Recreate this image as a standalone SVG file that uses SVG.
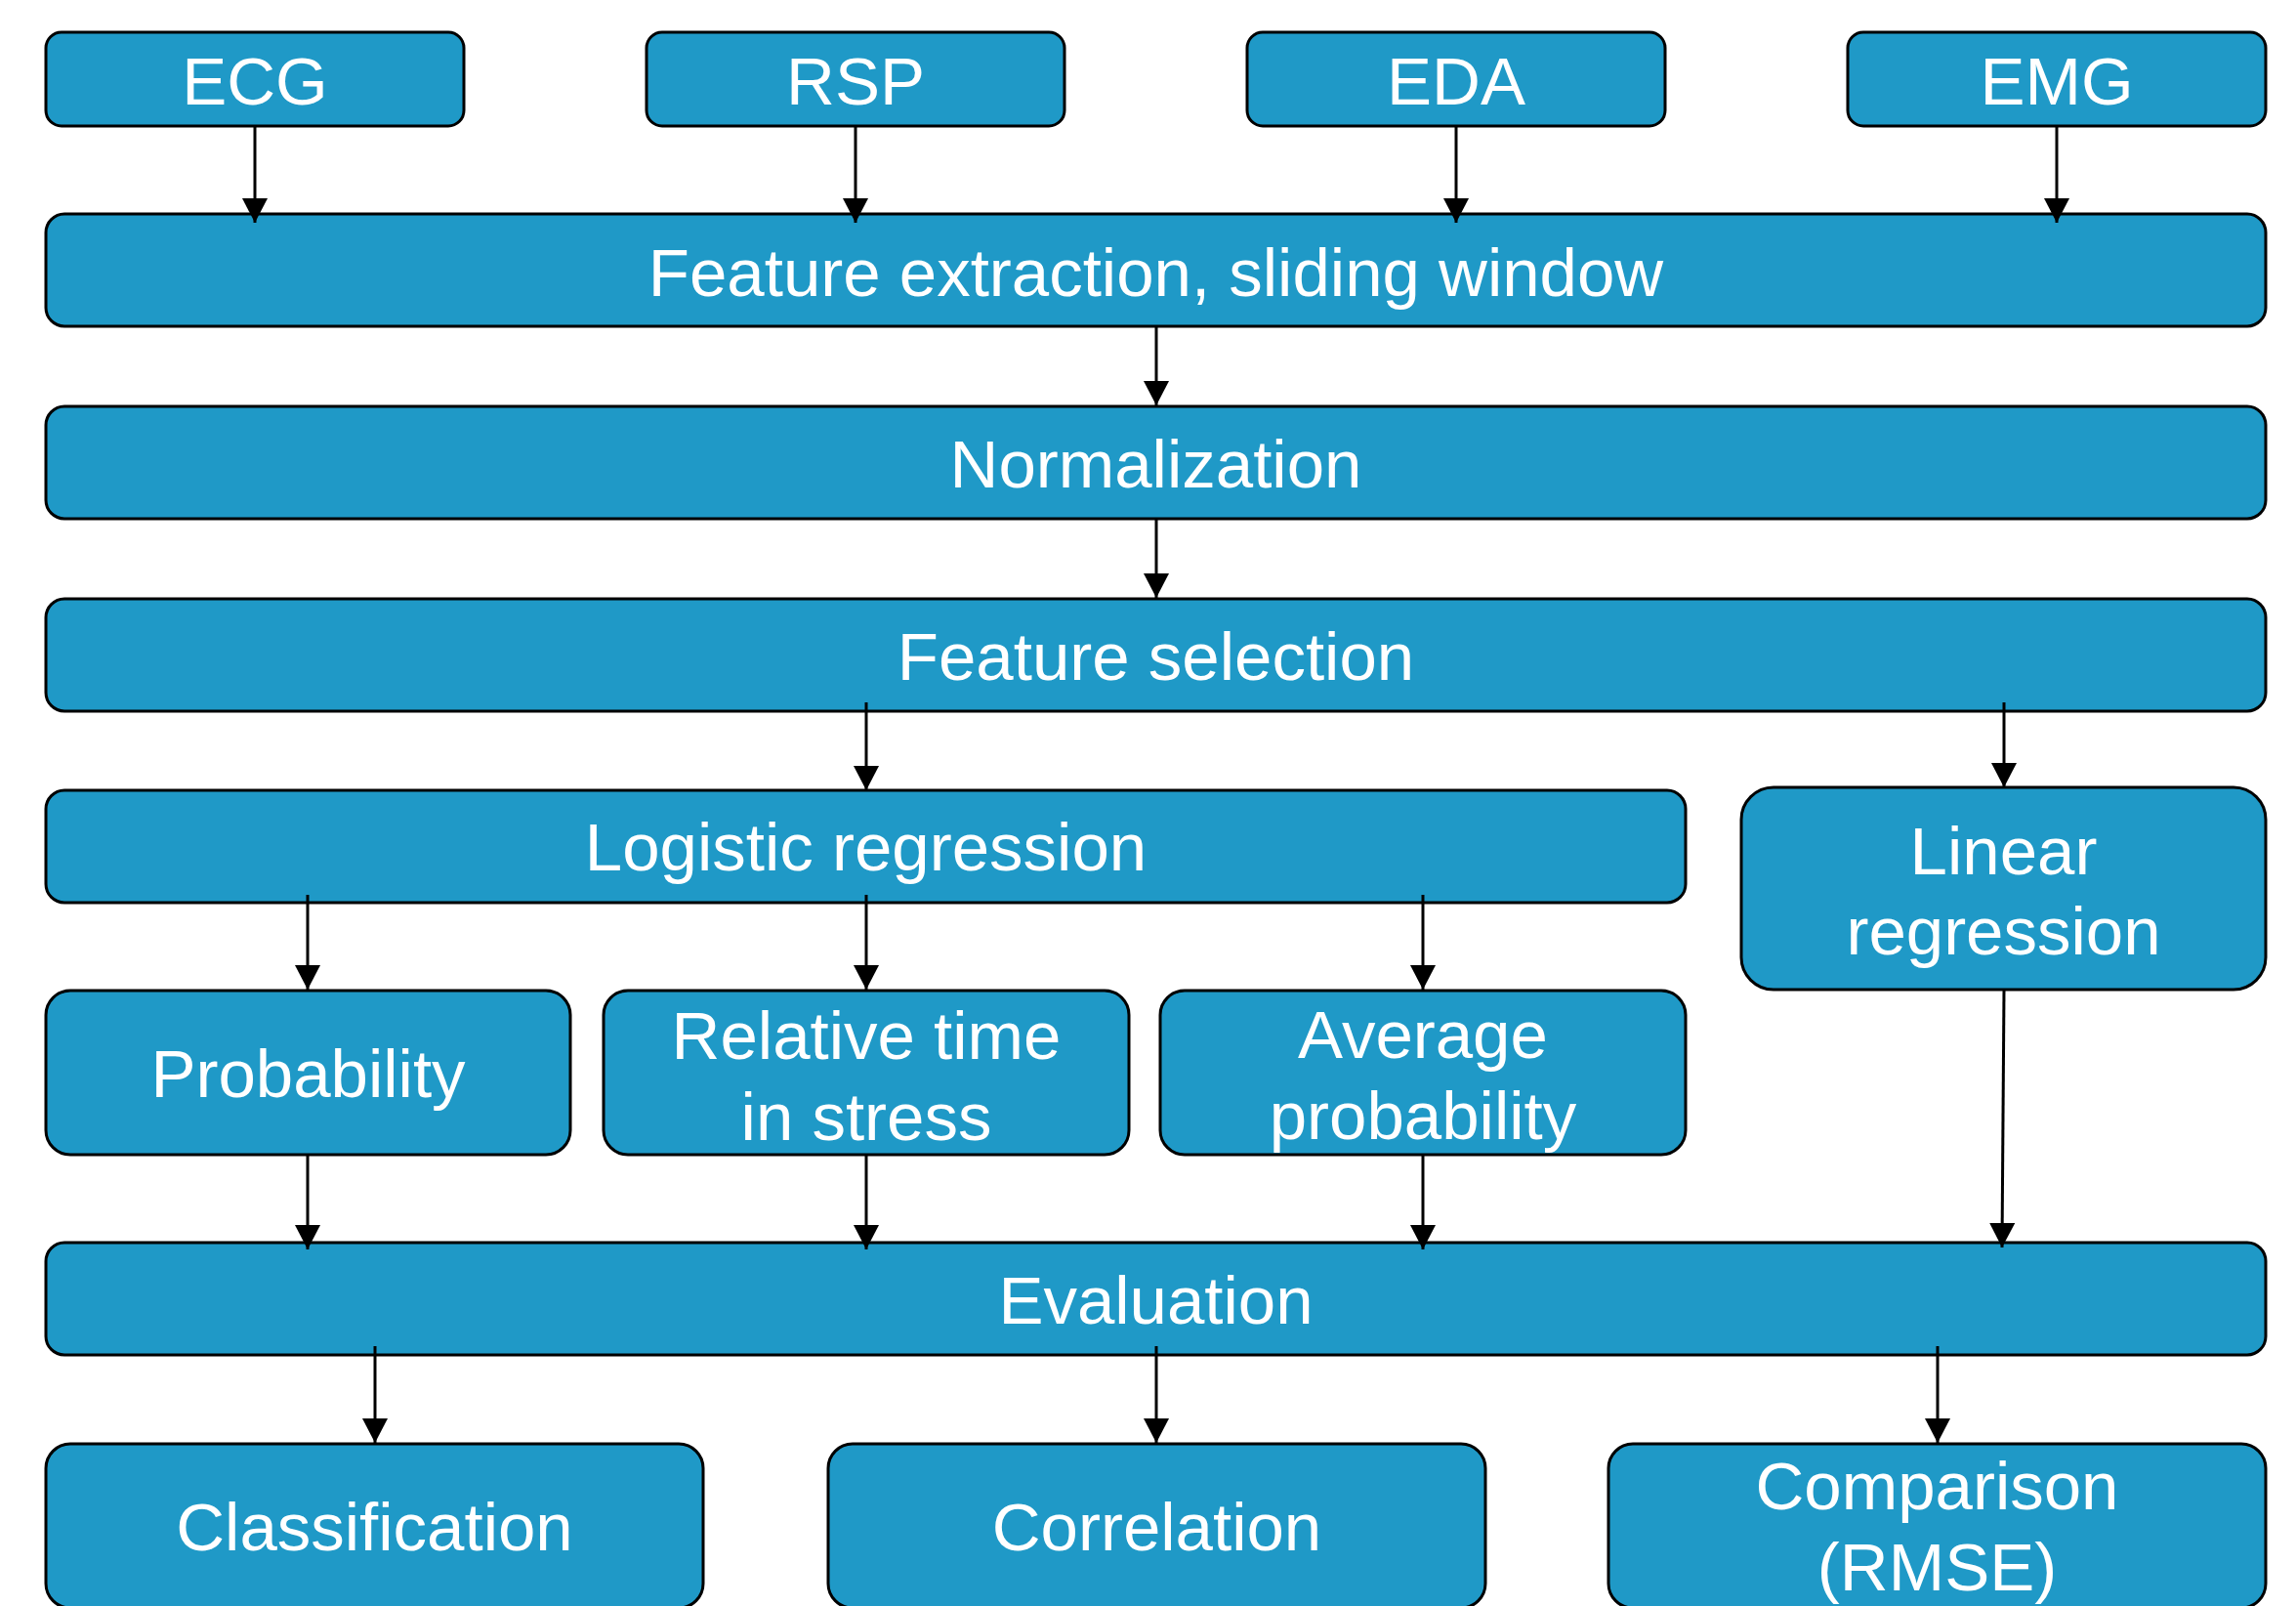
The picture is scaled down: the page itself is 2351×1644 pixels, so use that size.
<svg xmlns="http://www.w3.org/2000/svg" width="2351" height="1644" viewBox="0 0 2351 1644">
<style>
.box{fill:#1f99c7;stroke:#000;stroke-width:3}
.lbl{fill:#fff;font-family:"Liberation Sans",Arial,sans-serif;font-size:69px;text-anchor:middle}
.conn line{stroke:#000;stroke-width:3;fill:none}
</style>
<defs>
<marker id="arr" viewBox="0 0 25 26" refX="25" refY="13" markerWidth="25" markerHeight="26" markerUnits="userSpaceOnUse" orient="auto">
<path d="M0,0 L25,13 L0,26 Z" fill="#000"/>
</marker>
</defs>
<rect width="2351" height="1644" fill="#fff"/>
<g id="ecg"><rect class="box" x="47" y="33" width="428" height="96" rx="16"/><text class="lbl" x="261" y="107">ECG</text></g>
<g id="rsp"><rect class="box" x="662" y="33" width="428" height="96" rx="16"/><text class="lbl" x="876" y="107">RSP</text></g>
<g id="eda"><rect class="box" x="1277" y="33" width="428" height="96" rx="16"/><text class="lbl" x="1491" y="107">EDA</text></g>
<g id="emg"><rect class="box" x="1892" y="33" width="428" height="96" rx="16"/><text class="lbl" x="2106" y="107">EMG</text></g>
<g id="feature-extraction"><rect class="box" x="47" y="219" width="2273" height="115" rx="19"/><text class="lbl" x="1183.5" y="303">Feature extraction, sliding window</text></g>
<g id="normalization"><rect class="box" x="47" y="416" width="2273" height="115" rx="19"/><text class="lbl" x="1183.5" y="499">Normalization</text></g>
<g id="feature-selection"><rect class="box" x="47" y="613" width="2273" height="115" rx="19"/><text class="lbl" x="1183.5" y="696">Feature selection</text></g>
<g id="logistic-regression"><rect class="box" x="47" y="809" width="1679" height="115" rx="19"/><text class="lbl" x="886.5" y="891">Logistic regression</text></g>
<g id="linear-regression"><rect class="box" x="1783" y="806" width="537" height="207" rx="33"/><text class="lbl" x="2051.5" y="895">Linear</text><text class="lbl" x="2051.5" y="977">regression</text></g>
<g id="probability"><rect class="box" x="47" y="1014" width="537" height="168" rx="25"/><text class="lbl" x="315.5" y="1123">Probability</text></g>
<g id="relative-time"><rect class="box" x="618" y="1014" width="538" height="168" rx="25"/><text class="lbl" x="887" y="1084">Relative time</text><text class="lbl" x="887" y="1167">in stress</text></g>
<g id="average-probability"><rect class="box" x="1188" y="1014" width="538" height="168" rx="25"/><text class="lbl" x="1457" y="1083">Average</text><text class="lbl" x="1457" y="1166">probability</text></g>
<g id="evaluation"><rect class="box" x="47" y="1272" width="2273" height="115" rx="19"/><text class="lbl" x="1183.5" y="1355">Evaluation</text></g>
<g id="classification"><rect class="box" x="47" y="1478" width="673" height="168" rx="25"/><text class="lbl" x="383.5" y="1587">Classification</text></g>
<g id="correlation"><rect class="box" x="848" y="1478" width="673" height="168" rx="25"/><text class="lbl" x="1184.5" y="1587">Correlation</text></g>
<g id="comparison"><rect class="box" x="1647" y="1478" width="673" height="168" rx="25"/><text class="lbl" x="1983.5" y="1545">Comparison</text><text class="lbl" x="1983.5" y="1628">(RMSE)</text></g>
<g id="connectors" class="conn">
<line x1="261" y1="129" x2="261" y2="228" marker-end="url(#arr)"/>
<line x1="876" y1="129" x2="876" y2="228" marker-end="url(#arr)"/>
<line x1="1491" y1="129" x2="1491" y2="228" marker-end="url(#arr)"/>
<line x1="2106" y1="129" x2="2106" y2="228" marker-end="url(#arr)"/>
<line x1="1184" y1="334" x2="1184" y2="415" marker-end="url(#arr)"/>
<line x1="1184" y1="531" x2="1184" y2="612" marker-end="url(#arr)"/>
<line x1="887" y1="719" x2="887" y2="809" marker-end="url(#arr)"/>
<line x1="2052" y1="719" x2="2052" y2="806" marker-end="url(#arr)"/>
<line x1="315" y1="916" x2="315" y2="1013" marker-end="url(#arr)"/>
<line x1="887" y1="916" x2="887" y2="1013" marker-end="url(#arr)"/>
<line x1="1457" y1="916" x2="1457" y2="1013" marker-end="url(#arr)"/>
<line x1="315" y1="1182" x2="315" y2="1279" marker-end="url(#arr)"/>
<line x1="887" y1="1182" x2="887" y2="1279" marker-end="url(#arr)"/>
<line x1="1457" y1="1182" x2="1457" y2="1279" marker-end="url(#arr)"/>
<line x1="2052" y1="1013" x2="2050" y2="1277" marker-end="url(#arr)"/>
<line x1="384" y1="1378" x2="384" y2="1477" marker-end="url(#arr)"/>
<line x1="1184" y1="1378" x2="1184" y2="1477" marker-end="url(#arr)"/>
<line x1="1984" y1="1378" x2="1984" y2="1477" marker-end="url(#arr)"/>
</g>
</svg>
